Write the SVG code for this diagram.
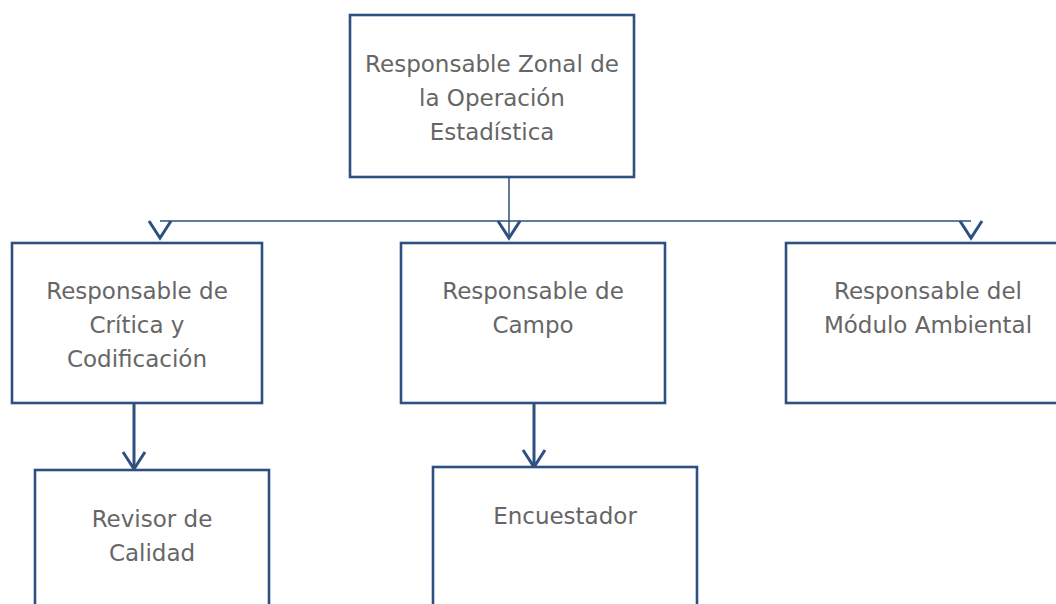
<svg xmlns="http://www.w3.org/2000/svg" width="1056" height="604" viewBox="0 0 1056 604">
<style>
.box{fill:#fff;stroke:#2E5080;stroke-width:2.6}
.t{font-family:"DejaVu Sans",sans-serif;font-size:23px;fill:#666666;text-anchor:middle}
.thin{stroke:#2E5080;stroke-width:1.5;fill:none}
.thick{stroke:#2E5080;stroke-width:3;fill:none}
.head{stroke:#2E5080;stroke-width:3;fill:none;stroke-linejoin:miter}
</style>
<rect width="1056" height="604" fill="#fff"/>
<g id="connectors">
<path class="thin" d="M509 177V236M160 221H971"/>
<path class="head" d="M149 221L160 238L171 221M498 221L509 238L520 221M960 221L971 238L982 221"/>
<path class="thick" d="M134 403V468M534 403V466"/>
<path class="head" d="M123 452L134 469L145 452M523 450L534 467L545 450"/>
</g>
<g id="n_zonal">
<rect class="box" x="350" y="15" width="284" height="162"/>
<text class="t" x="492" y="72">Responsable Zonal de</text>
<text class="t" x="492" y="106">la Operación</text>
<text class="t" x="492" y="140">Estadística</text>
</g>
<g id="n_critica">
<rect class="box" x="12" y="243" width="250" height="160"/>
<text class="t" x="137" y="299">Responsable de</text>
<text class="t" x="137" y="333">Crítica y</text>
<text class="t" x="137" y="367">Codificación</text>
</g>
<g id="n_campo">
<rect class="box" x="401" y="243" width="264" height="160"/>
<text class="t" x="533" y="299">Responsable de</text>
<text class="t" x="533" y="333">Campo</text>
</g>
<g id="n_ambiental">
<rect class="box" x="786" y="243" width="284" height="160"/>
<text class="t" x="928" y="299">Responsable del</text>
<text class="t" x="928" y="333">Módulo Ambiental</text>
</g>
<g id="n_revisor">
<rect class="box" x="35" y="470" width="234" height="150"/>
<text class="t" x="152" y="527">Revisor de</text>
<text class="t" x="152" y="561">Calidad</text>
</g>
<g id="n_encuestador">
<rect class="box" x="433" y="467" width="264" height="150"/>
<text class="t" x="565" y="524">Encuestador</text>
</g>
</svg>
